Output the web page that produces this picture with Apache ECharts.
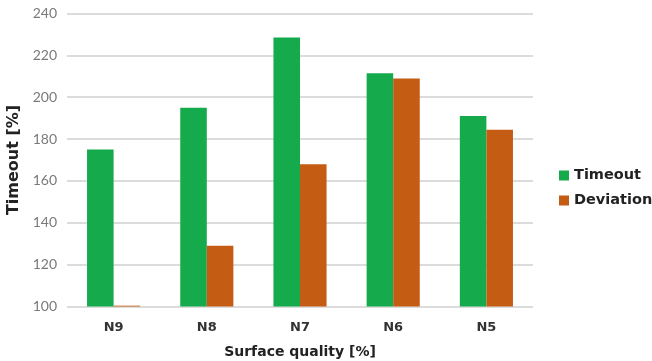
<!DOCTYPE html>
<html>
<head>
<meta charset="utf-8">
<script src="https://cdn.jsdelivr.net/npm/echarts@6/dist/echarts.min.js"></script>
<style>
html,body{margin:0;padding:0;background:#fff;}
#chart{width:652px;height:361px;}
</style>
</head>
<body>
<div id="chart"></div>
<script>
// Surface quality classes and measured values
const categories = ['N9', 'N8', 'N7', 'N6', 'N5'];
const timeoutValues = [175, 195, 228.5, 211.5, 191];
const deviationValues = [100.4, 129, 168, 209, 184.5];
const yTicks = { min: 100, max: 240, interval: 20 };

const chart = echarts.init(document.getElementById('chart'));
chart.setOption({
  animation: false,
  grid: { left: 67, right: 119, top: 13.5, bottom: 54.5, outerBoundsMode: 'none' },
  legend: {
    orient: 'vertical',
    left: 554,
    top: 163,
    itemWidth: 10,
    itemHeight: 10,
    itemGap: 10,
    icon: 'rect',
    textStyle: { fontFamily: 'DejaVu Sans', fontWeight: 'bold', fontSize: 14.5, color: '#222' },
    data: ['Timeout', 'Deviation']
  },
  xAxis: {
    type: 'category',
    data: categories,
    name: 'Surface quality [%]',
    nameLocation: 'middle',
    nameGap: 39,
    nameTextStyle: { fontFamily: 'DejaVu Sans', fontWeight: 'bold', fontSize: 14, color: '#222' },
    axisLine: { show: false },
    axisTick: { show: false },
    axisLabel: { fontFamily: 'DejaVu Sans', fontWeight: 'bold', fontSize: 13, color: '#333', margin: 15 }
  },
  yAxis: {
    type: 'value',
    min: yTicks.min,
    max: yTicks.max,
    interval: yTicks.interval,
    name: 'Timeout [%]',
    nameLocation: 'middle',
    nameGap: 44,
    nameTextStyle: { fontFamily: 'DejaVu Sans', fontWeight: 'bold', fontSize: 16, color: '#222' },
    axisLine: { show: false },
    axisTick: { show: false },
    axisLabel: { fontFamily: 'Lato', fontSize: 14, color: '#7a7a7a', margin: 10 },
    splitLine: { lineStyle: { color: '#d0d0d0', width: 1.5 } }
  },
  series: [
    {
      name: 'Timeout',
      type: 'bar',
      data: timeoutValues,
      barGap: '0%',
      barCategoryGap: '43%',
      itemStyle: { color: '#15aa4b' }
    },
    {
      name: 'Deviation',
      type: 'bar',
      data: deviationValues,
      itemStyle: { color: '#c55c14' }
    }
  ]
});
</script>
</body>
</html>
